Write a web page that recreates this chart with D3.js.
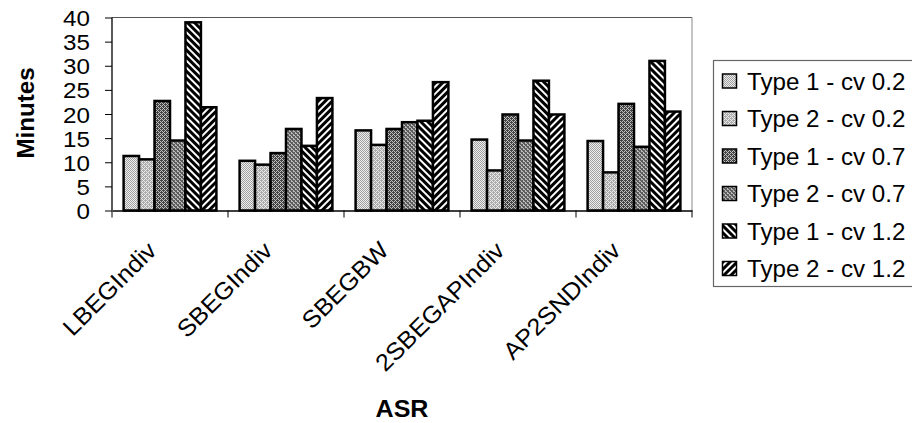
<!DOCTYPE html>
<html><head><meta charset="utf-8">
<script src="https://cdnjs.cloudflare.com/ajax/libs/d3/7.8.5/d3.min.js"></script>
<style>html,body{margin:0;padding:0;background:#fff;}svg{display:block;}</style>
</head><body>
<script>
const categories = ["LBEGIndiv","SBEGIndiv","SBEGBW","2SBEGAPIndiv","AP2SNDIndiv"];
const seriesNames = ["Type 1 - cv 0.2","Type 2 - cv 0.2","Type 1 - cv 0.7","Type 2 - cv 0.7","Type 1 - cv 1.2","Type 2 - cv 1.2"];
const type1cv02 = [11.3, 10.3, 16.6, 14.7, 14.4];
const type2cv02 = [10.6, 9.5, 13.6, 8.3, 7.9];
const type1cv07 = [22.7, 11.9, 16.9, 19.9, 22.1];
const type2cv07 = [14.5, 16.9, 18.3, 14.5, 13.2];
const type1cv12 = [39.0, 13.4, 18.6, 26.9, 31.0];
const type2cv12 = [21.4, 23.3, 26.6, 19.9, 20.5];
const yTicks = [0,5,10,15,20,25,30,35,40];
const series = [type1cv02,type2cv02,type1cv07,type2cv07,type1cv12,type2cv12];

const W=912,H=423;
const L=112,R=692,T=17.5,B=210.5;
const FONT="Liberation Sans, Arial, sans-serif";
const svg=d3.select("body").append("svg").attr("width",W).attr("height",H);
const defs=svg.append("defs");

// patterns
function pix(id,size,bg,cells,col){
  const p=defs.append("pattern").attr("id",id).attr("patternUnits","userSpaceOnUse").attr("width",size).attr("height",size);
  p.append("rect").attr("width",size).attr("height",size).attr("fill",bg);
  cells.forEach(c=>p.append("rect").attr("x",c[0]).attr("y",c[1]).attr("width",1).attr("height",1).attr("fill",col));
}
pix("p0",4,"#eeeeee",[[0,0],[2,0],[1,1],[3,1],[0,2],[2,2],[1,3],[3,3]],"#a0a0a0");
pix("p1",4,"#eaeaea",[[0,0],[2,0],[1,1],[3,1],[0,2],[2,2],[1,3],[3,3],[1,0],[3,2]],"#ababab");
pix("p2",4,"#c0c0c0",[[0,0],[2,0],[1,1],[3,1],[0,2],[2,2],[1,3],[3,3],[1,0],[3,2]],"#444444");
pix("p3",4,"#bababa",[[0,0],[1,1],[2,2],[3,3],[1,0],[2,1],[3,2],[0,3],[2,0],[0,2]],"#5e5e5e");
function stripes(id,angle){
  const p=defs.append("pattern").attr("id",id).attr("patternUnits","userSpaceOnUse").attr("width",5).attr("height",5)
    .attr("patternTransform","rotate("+angle+")");
  p.append("rect").attr("width",5).attr("height",5).attr("fill","#fff");
  p.append("rect").attr("width",3).attr("height",5).attr("fill","#000");
}
stripes("p4",-45);
stripes("p5",45);
const fills=["url(#p0)","url(#p1)","url(#p2)","url(#p3)","url(#p4)","url(#p5)"];

const x0=d3.scaleBand().domain(categories).range([L,R]).paddingInner(0).paddingOuter(0);
const gapRatio=1.5;
const bw=x0.bandwidth()/(6+gapRatio);
const x1=d3.scaleBand().domain(d3.range(6)).range([bw*gapRatio/2, bw*gapRatio/2+6*bw]).padding(0);
const y=d3.scaleLinear().domain([0,40]).range([B,T]);

// plot frame (top & right)
svg.append("line").attr("x1",L).attr("x2",R).attr("y1",T).attr("y2",T).attr("stroke","#555").attr("stroke-width",1);
svg.append("line").attr("x1",R).attr("x2",R).attr("y1",T).attr("y2",B).attr("stroke","#888").attr("stroke-width",1);

// bars
const g=svg.append("g");
categories.forEach((c,ci)=>{
  series.forEach((s,si)=>{
    g.append("rect").attr("x",x0(c)+x1(si)).attr("y",y(s[ci])).attr("width",x1.bandwidth()).attr("height",B-y(s[ci]))
      .attr("fill",fills[si]).attr("stroke","#000").attr("stroke-width",2.5);
  });
});

// y axis
const ya=svg.append("g").attr("transform",`translate(${L},0)`).call(d3.axisLeft(y).tickValues(yTicks).tickSize(7).tickFormat(d3.format("d")));
ya.select(".domain").attr("stroke","#000").attr("stroke-width",1.3).attr("d",`M0,${T}V${B}`);
ya.selectAll(".tick line").attr("stroke","#000").attr("stroke-width",1);
ya.selectAll(".tick text").each(function(){
  const t=d3.select(this);
  t.attr("x",null).attr("dy",null).attr("font-size",22).attr("font-family",FONT).attr("fill","#000")
   .attr("text-anchor","end").attr("transform",`translate(-22,8) scale(1.1,1)`);
});

// x axis
const xa=svg.append("g").attr("transform",`translate(0,${B})`).call(d3.axisBottom(x0).tickSize(0).tickFormat(""));
xa.select(".domain").attr("stroke","#000").attr("stroke-width",1.3);
const bounds=[...categories.map(c=>x0(c)),R];
xa.selectAll(".bt").data(bounds).enter().append("line").attr("class","bt")
  .attr("x1",d=>d).attr("x2",d=>d).attr("y1",0).attr("y2",7).attr("stroke","#000").attr("stroke-width",1);
svg.append("g").selectAll("text").data(categories).enter().append("text")
  .attr("transform",d=>`translate(${x0(d)+x0.bandwidth()/2-12},252) rotate(-45) scale(1.05,1)`)
  .attr("text-anchor","end").attr("font-size",24).attr("font-family",FONT).text(d=>d);

// axis titles
svg.append("text").attr("transform",`translate(402,417) scale(1.09,1)`).attr("text-anchor","middle")
  .attr("font-size",23).attr("font-weight","bold").attr("font-family",FONT).text("ASR");
svg.append("text").attr("transform",`translate(34,113) rotate(-90) scale(1.05,1)`).attr("text-anchor","middle")
  .attr("font-size",23).attr("font-weight","bold").attr("font-family",FONT).text("Minutes");

// legend
const lg=svg.append("g");
lg.append("rect").attr("x",713.5).attr("y",60.5).attr("width",220).attr("height",226).attr("fill","#fff").attr("stroke","#666").attr("stroke-width",1.2);
seriesNames.forEach((n,i)=>{
  const cy=81+i*37.5;
  lg.append("rect").attr("x",722.5).attr("y",cy-7).attr("width",14).attr("height",14).attr("fill",fills[i]).attr("stroke","#000").attr("stroke-width",1.5);
  lg.append("text").attr("transform",`translate(747,${cy+8.5}) scale(1.05,1)`).attr("font-size",23).attr("font-family",FONT).text(n);
});
</script>
</body></html>
